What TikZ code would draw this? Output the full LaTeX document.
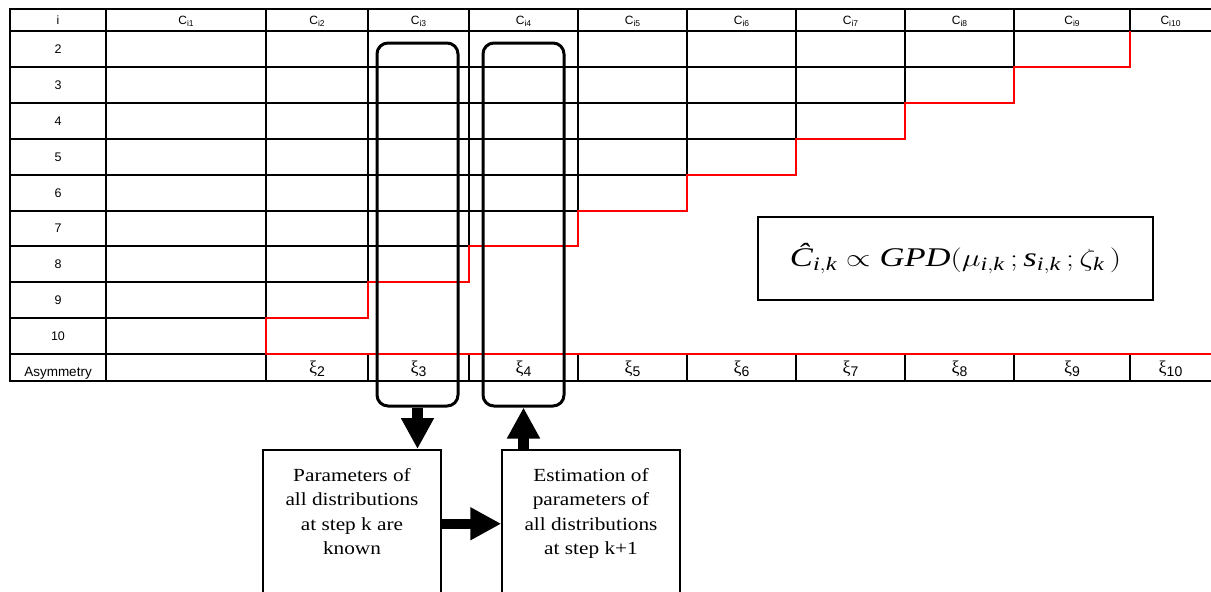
\documentclass[tikz,border=0pt]{standalone}
\usepackage{fontspec}
\usepackage{graphicx}
\setmainfont{Liberation Serif}
\newfontfamily\tabfont{Liberation Sans}
\newfontfamily\boxfont{Liberation Serif}[FakeStretch=1.15]
\usetikzlibrary{arrows.meta}
\newcommand{\hsub}[1]{\raisebox{-2.4pt}{\fontsize{8.5}{9}\selectfont #1}}
\newcommand{\xilab}[1]{{\fontsize{18}{20}\selectfont ξ}\raisebox{-3.5pt}{\tabfont\fontsize{14}{16}\selectfont #1}}
\begin{document}
\begin{tikzpicture}[x=1pt,y=-1pt,
  grid/.style={line width=1.6pt, black, line cap=rect},
  stair/.style={line width=1.6pt, red, line join=miter},
  colbox/.style={draw, line width=3pt, rounded corners=11pt, minimum width=81pt, minimum height=363pt, inner sep=0pt},
  stepbox/.style={draw, line width=1.5pt, inner sep=0pt, anchor=north, minimum width=178pt, minimum height=148pt},
  formbox/.style={draw, line width=1.8pt, minimum width=395pt, minimum height=83pt, inner sep=0pt},
  bigarrow/.style={line width=10.5pt, -{Triangle[length=31pt,width=31pt]}},
  hdr/.style={anchor=base, inner sep=0pt, font=\tabfont\fontsize{12}{13}\selectfont},
  rowlab/.style={inner sep=0pt, font=\tabfont\fontsize{12.5}{14}\selectfont},
  xinode/.style={anchor=base, inner sep=0pt}]
\useasboundingbox (0,0) rectangle (1211,592);
\clip (0,0) rectangle (1211,592);
% table grid
\draw[grid] (10,9) -- (1211,9);
\draw[grid] (10,31) -- (1211,31);
\draw[grid] (10,381) -- (1211,381);
\draw[grid] (10,67) -- (1014,67);
\draw[grid] (10,103) -- (905,103);
\draw[grid] (10,139) -- (796,139);
\draw[grid] (10,175) -- (687,175);
\draw[grid] (10,211) -- (578,211);
\draw[grid] (10,246) -- (469,246);
\draw[grid] (10,282) -- (368,282);
\draw[grid] (10,318) -- (266,318);
\draw[grid] (10,354) -- (266,354);
\draw[grid] (10,9) -- (10,381);
\draw[grid] (106,9) -- (106,381);
\foreach \x/\yb in {266/318,368/282,469/246,578/211,687/175,796/139,905/103,1014/67,1130/31}{
  \draw[grid] (\x,9) -- (\x,\yb);
  \draw[grid] (\x,354) -- (\x,381);
}
% staircase
\draw[stair] (1130,31) -- (1130,67) -- (1014,67) -- (1014,103) -- (905,103) -- (905,139)
  -- (796,139) -- (796,175) -- (687,175) -- (687,211) -- (578,211) -- (578,246)
  -- (469,246) -- (469,282) -- (368,282) -- (368,318) -- (266,318) -- (266,354) -- (1211,354);
% header
\node[hdr] (hi) at (58,24.5) {i};
\foreach \c/\k in {186/1,317/2,418.5/3,523.5/4,632.5/5,741.5/6,850.5/7,959.5/8,1072/9,1170.5/10}{
  \node[hdr] (h\k) at (\c,24.5) {C\hsub{i\k}};
}
% row labels
\foreach \r/\y in {2/49,3/85,4/121,5/157,6/193,7/228.5,8/264,9/300,10/336}{
  \node[rowlab] (r\r) at (58,\y) {\r};
}
\node[anchor=base, inner sep=0pt, font=\tabfont\fontsize{13.5}{15}\selectfont] (asym) at (58,376) {Asymmetry};
% xi labels
\foreach \c/\k in {317/2,418.5/3,523.5/4,632.5/5,741.5/6,850.5/7,959.5/8,1072/9,1170.5/10}{
  \node[xinode] (xi\k) at (\c,373) {\xilab{\k}};
}
% column frames
\node[colbox] (cb3) at (417.5,224.5) {};
\node[colbox] (cb4) at (523.5,224.5) {};
% formula
\node[formbox] (gpd) at (955.5,258.5) {\fontsize{27}{30}\selectfont\scalebox{1.28}[1]{$\mbox{\itshape Ĉ}_{\mathit{i,k}}\propto \mathit{GPD}(\mu_{\mathit{i,k}}\,;\mathit{s}_{\mathit{i,k}}\,;\zeta_{\mathit{k}}\,)$}};
% step boxes
\node[stepbox] (known) at (352,449) {\parbox[c][111pt][t]{176pt}{\centering\boxfont\fontsize{18.5}{24.5}\selectfont Parameters of\\ all distributions\\ at step k are\\ known}};
\node[stepbox] (estim) at (591,449) {\parbox[c][111pt][t]{176pt}{\centering\boxfont\fontsize{18.5}{24.5}\selectfont Estimation of\\ parameters of\\ all distributions\\ at step k+1}};
% arrows
\draw[bigarrow] (cb3.south) -- (cb3.south |- known.north);
\draw[bigarrow] (cb4.south |- estim.north) -- (cb4.south);
\draw[bigarrow] (known.east) -- (estim.west);
\end{tikzpicture}
\end{document}
